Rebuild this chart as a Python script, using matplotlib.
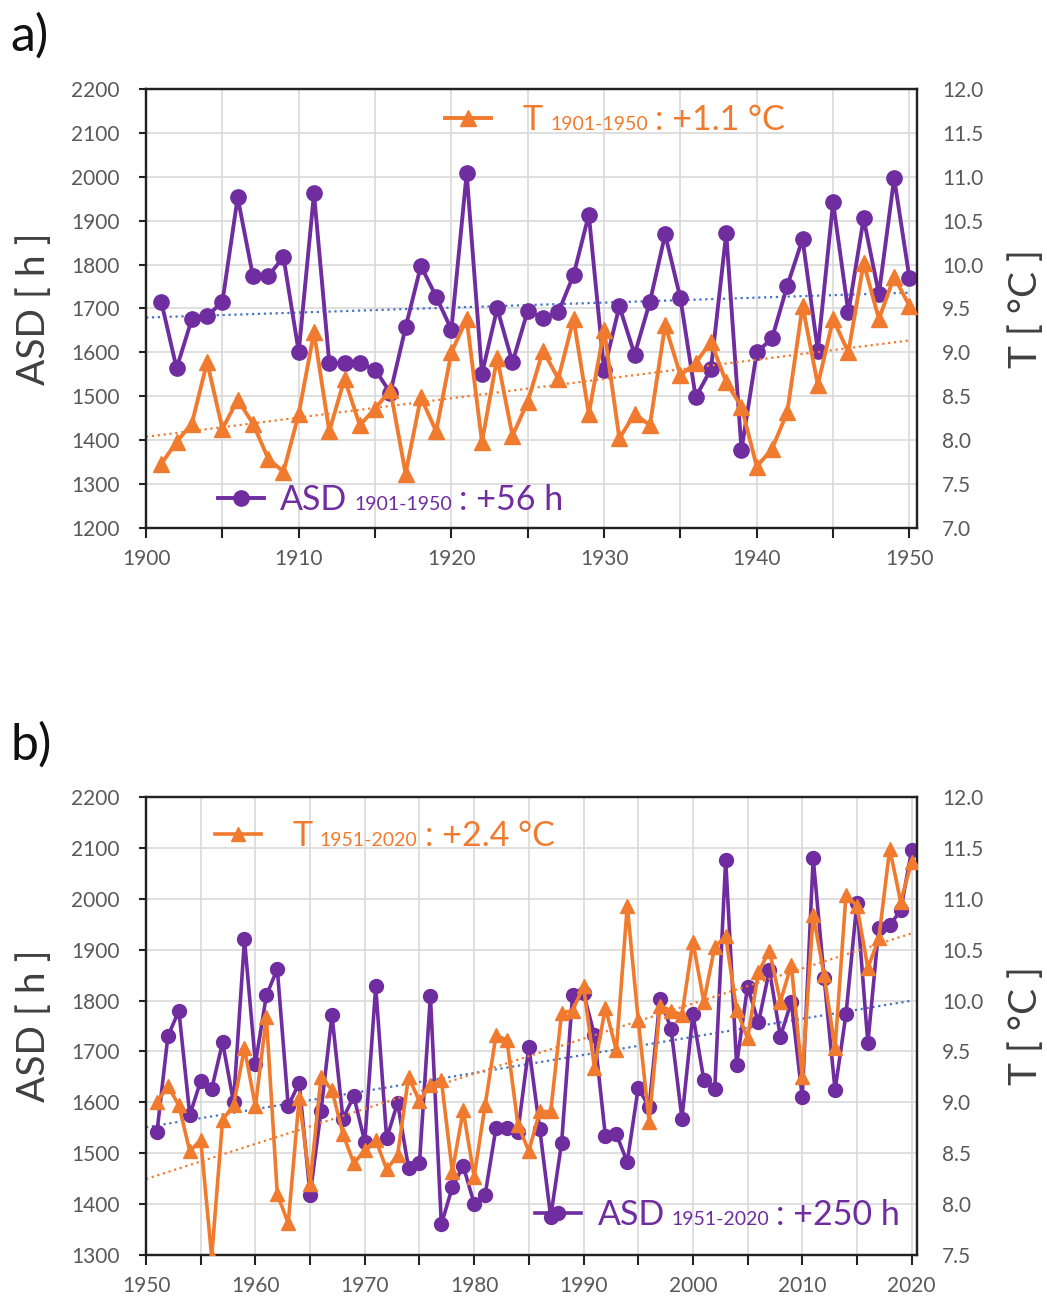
import numpy as np
import matplotlib
matplotlib.use('Agg')
import matplotlib.pyplot as plt
from matplotlib.lines import Line2D
from matplotlib.offsetbox import TextArea, DrawingArea, HPacker, AnchoredOffsetbox

plt.rcParams['font.family'] = ['Lato', 'DejaVu Sans']

# ========== data ==========
years_a = list(range(1901, 1951))
asd_a = [1715, 1564, 1676, 1683, 1715, 1953, 1774, 1774, 1817, 1601,
         1962, 1576, 1576, 1576, 1561, 1508, 1657, 1797, 1727, 1652,
         2008, 1551, 1700, 1577, 1695, 1679, 1691, 1776, 1914, 1560,
         1705, 1595, 1715, 1869, 1723, 1498, 1562, 1871, 1378, 1600,
         1632, 1752, 1858, 1604, 1942, 1691, 1905, 1733, 1997, 1769]
t_a = [7.73, 7.98, 8.19, 8.89, 8.13, 8.46, 8.19, 7.79, 7.64, 8.30,
       9.23, 8.10, 8.70, 8.17, 8.36, 8.57, 7.62, 8.49, 8.10, 9.00,
       9.38, 7.98, 8.94, 8.05, 8.44, 9.02, 8.70, 9.38, 8.30, 9.26,
       8.02, 8.30, 8.17, 9.31, 8.74, 8.88, 9.12, 8.66, 8.38, 7.70,
       7.90, 8.32, 9.53, 8.63, 9.38, 9.00, 10.02, 9.38, 9.86, 9.53]

years_b = list(range(1951, 2021))
asd_b = [1542, 1730, 1780, 1575, 1642, 1626, 1718, 1600, 1920, 1676,
         1810, 1862, 1593, 1638, 1418, 1583, 1771, 1568, 1612, 1522,
         1828, 1529, 1599, 1471, 1481, 1809, 1360, 1433, 1475, 1401,
         1418, 1550, 1550, 1542, 1709, 1547, 1375, 1521, 1811, 1815,
         1732, 1534, 1537, 1483, 1628, 1591, 1804, 1745, 1568, 1773,
         1644, 1626, 2077, 1674, 1827, 1757, 1860, 1729, 1798, 1610,
         2080, 1845, 1624, 1773, 1992, 1716, 1943, 1948, 1977, 2095]
t_b = [9.00, 9.16, 8.97, 8.52, 8.63, 7.48, 8.83, 8.97, 9.53, 8.96,
       9.84, 8.10, 7.81, 9.04, 8.20, 9.25, 9.12, 8.69, 8.40, 8.53,
       8.63, 8.34, 8.48, 9.25, 9.01, 9.17, 9.22, 8.32, 8.92, 8.27,
       8.97, 9.66, 9.61, 8.78, 8.52, 8.91, 8.91, 9.88, 9.90, 10.14,
       9.34, 9.93, 9.51, 10.93, 9.81, 8.81, 9.95, 9.90, 9.86, 10.58,
       9.99, 10.53, 10.63, 9.91, 9.63, 10.28, 10.49, 9.99, 10.35, 9.25,
       10.84, 10.25, 9.53, 11.04, 10.93, 10.32, 10.61, 11.49, 10.97, 11.36]

PURPLE = '#6F2DA0'
ORANGE = '#F07B2E'
BLUE = '#4472C4'
TICK_C = '#595959'
LABEL_C = '#404040'


def legend_box(ax, color, marker, ms, lw, big, sub, rest, anchor, gap):
    """handle + 'BIG sub : rest' with aligned baselines"""
    da = DrawingArea(33, 18, 0, 0)
    da.add_artist(Line2D([0, 33], [8.5, 8.5], color=color, lw=lw))
    da.add_artist(Line2D([16.5], [8.5], color=color, marker=marker, ms=ms))
    t1 = TextArea(big, textprops=dict(fontsize=24.5, color=color))
    t2 = TextArea(sub, textprops=dict(fontsize=14, color=color))
    t3 = TextArea(rest, textprops=dict(fontsize=24.5, color=color))
    txt = HPacker(children=[t1, t2, t3], sep=5, pad=0, align='baseline')
    box = HPacker(children=[da, txt], sep=gap, pad=0, align='baseline')
    ab = AnchoredOffsetbox(loc='center left', child=box, pad=0, borderpad=0,
                           frameon=False, bbox_to_anchor=anchor,
                           bbox_transform=ax.transAxes)
    ab.set_zorder(10)
    ax.add_artist(ab)


def panel(fig, rect, years, asd, temp, xlim, ylim_asd, ylim_t, ms, lw, period,
          asd_txt, t_txt, asd_anchor, t_anchor):
    ax = fig.add_axes(rect)
    ax2 = ax.twinx()

    yrs = np.array(years)
    # linear trends
    xs = np.array([yrs[0] - 1, yrs[-1]])
    pa = np.polyfit(yrs, asd, 1)
    pt = np.polyfit(yrs, temp, 1)
    ax.plot(xs, np.polyval(pa, xs), ls=':', color=BLUE, lw=1.6, zorder=2)
    ax.plot(yrs, asd, color=PURPLE, lw=lw, marker='o', ms=ms, zorder=3)
    ax2.plot(xs, np.polyval(pt, xs), ls=':', color=ORANGE, lw=1.6, zorder=2)
    ax2.plot(yrs, temp, color=ORANGE, lw=lw, marker='^', ms=ms, zorder=3)

    ax.set_xlim(*xlim)
    ax.set_ylim(*ylim_asd)
    ax2.set_ylim(*ylim_t)

    xt = list(range(xlim[0], int(xlim[1]) + 1, 5))
    ax.set_xticks(xt)
    ax.set_xticklabels([str(v) if v % 10 == 0 else '' for v in xt])
    ax.set_yticks(np.arange(ylim_asd[0], ylim_asd[1] + 1, 100))
    tt = np.arange(ylim_t[0], ylim_t[1] + 0.01, 0.5)
    ax2.set_yticks(tt)
    ax2.set_yticklabels([f'{v:.1f}' for v in tt])

    ax.grid(True, color='#d9d9d9', lw=1.2)
    ax.set_axisbelow(True)
    ax.tick_params(axis='both', direction='out', length=5, width=1.5,
                   colors='#222222', labelcolor=TICK_C, labelsize=15)
    ax.tick_params(axis='y', pad=14)
    ax.tick_params(axis='x', pad=8, length=7)
    ax2.tick_params(axis='y', length=0, pad=18, labelcolor=TICK_C, labelsize=15)
    for a in (ax, ax2):
        for s in a.spines.values():
            s.set_color('#222222')
            s.set_linewidth(1.6)

    ax.set_ylabel('ASD [ h ]', fontsize=28, color=LABEL_C, labelpad=14)
    ax2.set_ylabel('T [ °C ]', fontsize=28, color=LABEL_C, rotation=90,
                   labelpad=18)

    legend_box(ax2, ORANGE, '^', ms, lw, 'T', period, ': ' + t_txt,
               t_anchor, 23)
    legend_box(ax2, PURPLE, 'o', ms, lw, 'ASD', period, ': ' + asd_txt,
               asd_anchor, 12)
    return ax, ax2


fig = plt.figure(figsize=(10.47, 12.97), dpi=100)

panel(fig, [0.1395, 0.5929, 0.7364, 0.3385], years_a, asd_a, t_a,
      (1900, 1950.5), (1200, 2200), (7.0, 12.0), 11, 2.8, '1901-1950',
      '+56 h', '+1.1 °C', (0.093, 0.064), (0.388, 0.929))
panel(fig, [0.1395, 0.0324, 0.7364, 0.3531], years_b, asd_b, t_b,
      (1950, 2020.5), (1300, 2200), (7.5, 12.0), 10, 2.6, '1951-2020',
      '+250 h', '+2.4 °C', (0.5045, 0.087), (0.0895, 0.915))

fig.text(0.010, 0.990, 'a)', fontsize=36, va='top', ha='left', color='#111111')
fig.text(0.010, 0.443, 'b)', fontsize=36, va='top', ha='left', color='#111111')

fig.savefig('out.png', dpi=100)
